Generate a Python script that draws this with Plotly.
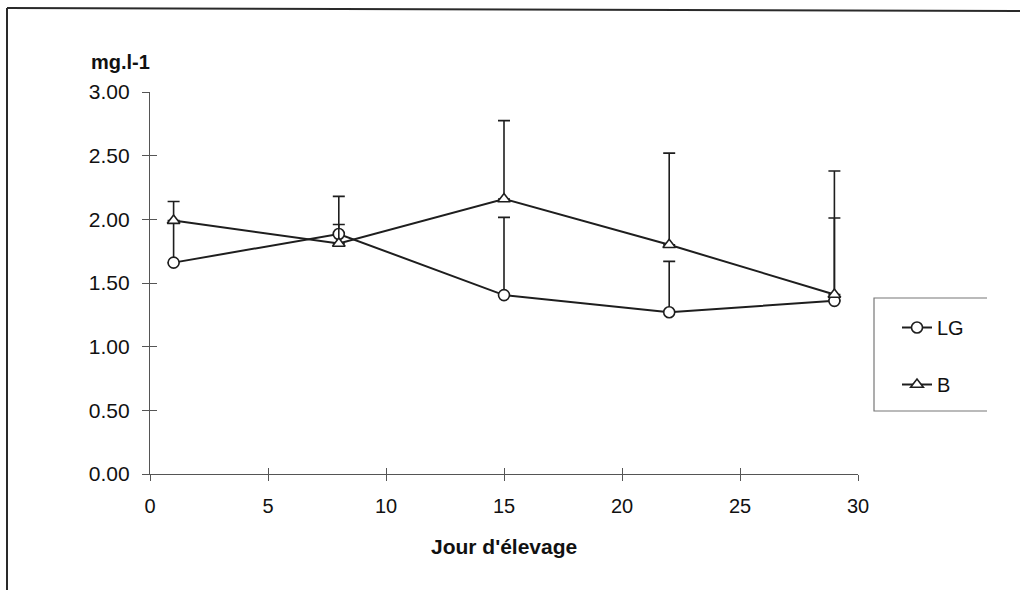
import plotly.graph_objects as go

days = [1, 8, 15, 22, 29]
lg_values = [1.66, 1.885, 1.405, 1.27, 1.36]
lg_errors = [0.31, 0.075, 0.61, 0.40, 0.65]
b_values = [1.99, 1.81, 2.16, 1.80, 1.41]
b_errors = [0.15, 0.37, 0.615, 0.72, 0.97]
y_ticks = [0, 0.5, 1.0, 1.5, 2.0, 2.5, 3.0]
x_ticks = [0, 5, 10, 15, 20, 25, 30]

W, H = 1020, 590
L, R, T, B = 150, 162, 92, 116
PW, PH = W - L - R, H - T - B

def px(x):
    return (x - L) / PW

def py(y):
    return (H - B - y) / PH

FONT = "Liberation Sans, Arial, sans-serif"
INK = "#1e1e1e"
AX = "#555555"

fig = go.Figure()

fig.add_trace(go.Scatter(
    x=days, y=lg_values, name="LG", mode="lines+markers",
    line=dict(color=INK, width=2),
    marker=dict(symbol="circle", size=11, color="white", line=dict(color=INK, width=1.6)),
    error_y=dict(type="data", symmetric=False, array=lg_errors, arrayminus=[0] * len(lg_errors),
                 color=INK, thickness=1.6, width=6),
    legendgroup="lg",
))
fig.add_trace(go.Scatter(
    x=days, y=b_values, name="B", mode="lines+markers",
    line=dict(color=INK, width=2),
    marker=dict(symbol="triangle-up", size=11, color="white", line=dict(color=INK, width=1.6)),
    error_y=dict(type="data", symmetric=False, array=b_errors, arrayminus=[0] * len(b_errors),
                 color=INK, thickness=1.6, width=6),
    legendgroup="b",
))

axis_common = dict(showgrid=False, zeroline=False)

fig.update_layout(
    width=W, height=H, autosize=False,
    margin=dict(l=L, r=R, t=T, b=B),
    paper_bgcolor="white", plot_bgcolor="white",
    font=dict(family=FONT, color="#111111"),
    xaxis=dict(range=[0, 30], tickvals=x_ticks, ticks="outside", ticklen=6, tickcolor=AX,
               showline=True, linecolor=AX, linewidth=1.2, tickfont=dict(size=20, family=FONT),
               ticklabelstandoff=8, **axis_common),
    yaxis=dict(range=[0, 3], tickvals=y_ticks, tickformat=".2f", ticks="outside", ticklen=7,
               tickcolor=AX, showline=True, linecolor=AX, linewidth=1.2,
               tickfont=dict(size=21, family=FONT), ticklabelstandoff=8, **axis_common),
    xaxis2=dict(range=[0, 30], tickvals=x_ticks, ticks="inside", ticklen=6, tickcolor=AX,
                showticklabels=False, overlaying="x", anchor="y", side="bottom", **axis_common),
    yaxis2=dict(range=[0, 3], tickvals=y_ticks, ticks="inside", ticklen=7, tickcolor=AX,
                showticklabels=False, overlaying="y", anchor="x", side="left", **axis_common),
    showlegend=True,
    legend=dict(x=px(897), y=py(308), xanchor="left", yanchor="top",
                font=dict(size=20, family=FONT), bgcolor="rgba(0,0,0,0)", borderwidth=0,
                traceorder="grouped", tracegroupgap=28),
    annotations=[
        dict(text="<b>mg.l-1</b>", x=px(152), y=py(62), xref="paper", yref="paper",
             xanchor="right", yanchor="middle", showarrow=False, font=dict(size=20, family=FONT)),
        dict(text="<b>Jour d'élevage</b>", x=0.5, y=py(546), xref="paper", yref="paper",
             xanchor="center", yanchor="middle", showarrow=False, font=dict(size=21, family=FONT)),
    ],
    shapes=[
        dict(type="line", xref="paper", yref="paper", x0=px(7), x1=px(1020), y0=py(8), y1=py(11),
             line=dict(color="#2a2a2a", width=2), layer="below"),
        dict(type="line", xref="paper", yref="paper", x0=px(7), x1=px(7), y0=py(8), y1=py(590),
             line=dict(color="#2a2a2a", width=2), layer="below"),
        dict(type="path", xref="paper", yref="paper",
             path=f"M {px(987)},{py(298)} L {px(874)},{py(298)} L {px(874)},{py(411)} L {px(987)},{py(411)}",
             line=dict(color="#777777", width=1.2)),
    ],
)

# invisible trace that activates the overlay axes (crossing tick marks)
fig.add_trace(go.Scatter(x=[None], y=[None], xaxis="x2", yaxis="y2", showlegend=False,
                         hoverinfo="skip"))

fig.write_html("out.html")
